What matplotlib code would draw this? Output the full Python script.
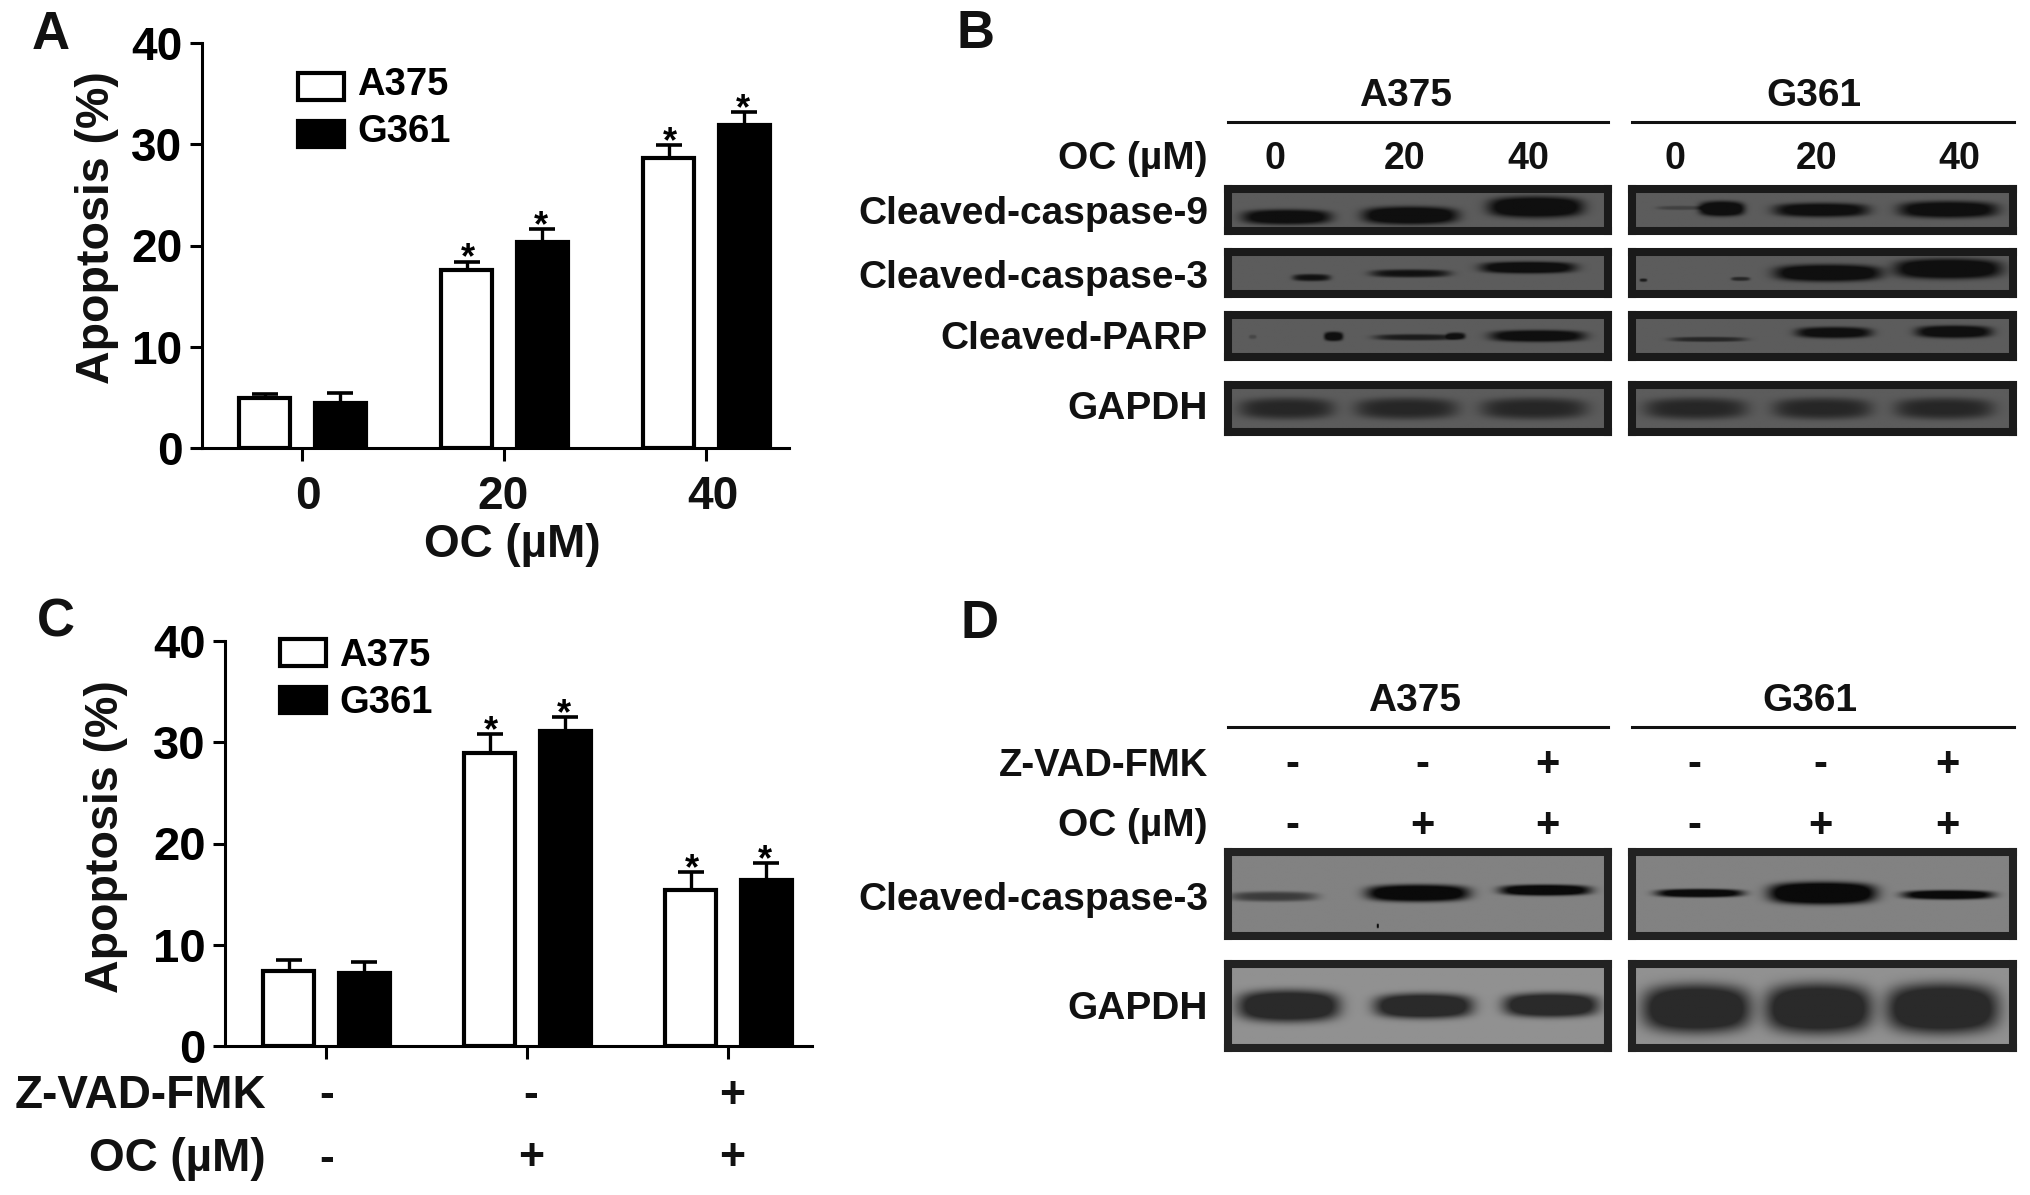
import matplotlib
matplotlib.use('Agg')
import matplotlib.pyplot as plt
import numpy as np
from matplotlib.patches import Patch

W, H = 2031, 1195
plt.rcParams['font.family'] = ['Liberation Sans', 'DejaVu Sans']
plt.rcParams['font.weight'] = 'bold'

series_names = ['A375', 'G361']
groups_a = ['0', '20', '40']
a375_a = [4.9, 17.6, 28.6]
a375_a_top = [5.3, 18.4, 29.9]
g361_a = [4.45, 20.3, 31.9]
g361_a_top = [5.4, 21.6, 33.2]
stars_a = [False, True, True]

a375_c = [7.45, 28.95, 15.45]
a375_c_top = [8.5, 30.8, 17.2]
g361_c = [7.25, 31.15, 16.35]
g361_c_top = [8.3, 32.5, 18.1]
stars_c = [False, True, True]
zvad_signs = ['-', '-', '+']
oc_signs = ['-', '+', '+']
y_ticks = [0, 10, 20, 30, 40]

# blot bands: x centre, y centre, width, height, strength (fractions of a panel)
b_casp9_a375 = [(.155, .667, .235, .36, .9), (.48, .63, .25, .42, 1), (.81, .43, .25, .5, 1)]
b_casp9_g361 = [(.236, .47, .12, .36, 1), (.13, .45, .13, .1, .25), (.497, .5, .25, .34, .85), (.83, .49, .26, .4, .9)]
b_casp3_a375 = [(.22, .61, .1, .17, .7), (.48, .51, .21, .19, .7), (.79, .37, .25, .28, .95)]
b_casp3_g361 = [(.03, .67, .02, .08, .6), (.285, .64, .05, .1, .5), (.515, .5, .28, .4, 1), (.83, .4, .28, .48, 1)]
b_parp_a375 = [(.065, .52, .02, .1, .2), (.278, .51, .05, .22, .9), (.495, .53, .22, .15, .6), (.6, .5, .05, .17, .7), (.815, .5, .25, .28, .9)]
b_parp_g361 = [(.2, .58, .2, .12, .5), (.53, .42, .2, .27, .85), (.845, .4, .2, .3, .9)]
b_gapdh_a375 = [(.155, .5, .25, .46, .5), (.47, .5, .27, .46, .5), (.806, .5, .28, .46, .5)]
b_gapdh_g361 = [(.168, .5, .27, .46, .5), (.5, .5, .26, .46, .5), (.82, .5, .26, .46, .5)]
d_casp3_a375 = [(.12, .53, .23, .12, .42), (.5, .49, .27, .2, 1), (.835, .455, .24, .13, .95), (.394, .88, .006, .05, 1)]
d_casp3_g361 = [(.178, .49, .23, .1, .9), (.5, .49, .28, .26, 1.1), (.83, .51, .24, .11, .9)]
d_gapdh_a375 = [(.16, .5, .27, .38, 1), (.515, .5, .26, .3, 1), (.85, .49, .25, .29, 1)]
d_gapdh_g361 = [(.17, .53, .285, .58, 1), (.49, .53, .28, .6, 1), (.815, .53, .295, .6, 1)]

fig = plt.figure(figsize=(W / 100, H / 100), dpi=100)


def px_axes(x0, y0, x1, y1):
    return fig.add_axes([x0 / W, 1 - y1 / H, (x1 - x0) / W, (y1 - y0) / H])


def px_text(x, y, s, size, ha='center', va='center', rotation=0):
    # text centre sits a little high with va='center', push horizontal text down
    dy = 0 if rotation else 3
    fig.text(x / W, 1 - (y + dy) / H, s, fontsize=size, ha=ha, va=va, fontweight='bold',
             color='#111111', rotation=rotation)


def bar_panel(rect, ticks_px, white, white_top, black, black_top, stars, legend_xy, label_up, tick_size):
    ax = px_axes(*rect)
    step = ticks_px[1] - ticks_px[0]
    ax.set_xlim((rect[0] - ticks_px[0]) / step, (rect[2] - ticks_px[0]) / step)
    ax.set_ylim(0, 40)
    x = np.arange(3)
    width = 0.255
    for offs, star_dx, vals, tops, face in ((-0.185, 1, white, white_top, 'white'),
                                            (0.19, -1, black, black_top, 'black')):
        ax.errorbar(x + offs, vals, yerr=[np.zeros(3), np.array(tops) - np.array(vals)], fmt='none',
                    ecolor='black', elinewidth=2.4, capsize=9.5, capthick=2.6, zorder=1)
        ax.bar(x + offs, vals, width, color=face, edgecolor='black', linewidth=3, zorder=2)
        for xi, top, st in zip(x, tops, stars):
            if st:
                ax.annotate('*', (xi + offs, top), xytext=(star_dx, -5), textcoords='offset points',
                            ha='center', va='baseline', fontsize=26, fontweight='bold')
    ax.spines['top'].set_visible(False)
    ax.spines['right'].set_visible(False)
    ax.spines['left'].set_linewidth(2.2)
    ax.spines['bottom'].set_linewidth(2.2)
    ax.set_yticks(y_ticks)
    ax.tick_params(axis='y', length=9, width=2.2, labelsize=tick_size, pad=5)
    ax.set_xticks(x)
    ax.set_xticklabels([])
    ax.tick_params(axis='x', length=9, width=2.2)
    ax.patch.set_alpha(0)
    handles = [Patch(facecolor='white', edgecolor='black', linewidth=3),
               Patch(facecolor='black', edgecolor='black', linewidth=3)]
    leg = fig.legend(handles, series_names, loc='upper left', frameon=False, fontsize=27.5,
                     bbox_to_anchor=(legend_xy[0] / W, 1 - legend_xy[1] / H), borderpad=0, borderaxespad=0,
                     handlelength=1.2, handleheight=0.68, handletextpad=0.35, labelspacing=0.3)
    for t in leg.get_texts():
        t.set_y(label_up)
    return ax


def blot(rect, bands, bg, dark, frame):
    pad = 4
    ax = px_axes(rect[0] + pad, rect[1] + pad, rect[2] - pad, rect[3] - pad)
    w = int(rect[2] - rect[0])
    h = int(rect[3] - rect[1])
    xx, yy = np.meshgrid((np.arange(w) + .5) / w, (np.arange(h) + .5) / h)
    amount = np.zeros_like(xx)
    for cx, cy, bw, bh, st in bands:
        dx = (xx - cx) / (bw / 2)
        dy = (yy - cy) / (bh / 2)
        amount += st * np.exp(-dx ** 6 - dy ** 4 - (dx * dy) ** 2)
    amount = np.clip(1.4 * amount, 0, 1)
    ax.imshow(bg + (dark - bg) * amount, cmap='gray', vmin=0, vmax=255, extent=(0, 1, 1, 0),
              aspect='auto', interpolation='bilinear')
    ax.set_xticks([])
    ax.set_yticks([])
    for s in ax.spines.values():
        s.set_linewidth(5.8)
        s.set_color(frame)


# panel A
ax_a = bar_panel((202, 43, 789, 448), [302, 504, 706], a375_a, a375_a_top, g361_a, g361_a_top,
                 stars_a, (298, 72), 5, 33)
for xp, s in zip([308, 503, 713], groups_a):
    px_text(xp, 494, s, 33)
px_text(97, 228, 'Apoptosis (%)', 33.5, rotation=90)
px_text(512, 542, 'OC (µM)', 33)
px_text(51, 32, 'A', 38)

# panel C
ax_c = bar_panel((225, 641, 812, 1046), [326, 527, 728], a375_c, a375_c_top, g361_c, g361_c_top,
                 stars_c, (280, 638), 0, 34)
px_text(106, 837, 'Apoptosis (%)', 33.5, rotation=90)
px_text(266, 1093, 'Z-VAD-FMK', 33, ha='right')
px_text(266, 1156, 'OC (µM)', 33, ha='right')
for xp, z, o in zip([327, 531, 732], zvad_signs, oc_signs):
    px_text(xp, 1093, z, 32)
    px_text(xp, 1156, o, 32)
px_text(56, 620, 'C', 38)

# panel B
A_X = (1224, 1612)
G_X = (1628, 2017)
fig.add_artist(plt.Line2D([1228 / W, 1608 / W], [1 - 122 / H] * 2, color='#111111', lw=2.2))
fig.add_artist(plt.Line2D([1632 / W, 2014 / W], [1 - 122 / H] * 2, color='#111111', lw=2.2))
px_text(1406, 93, 'A375', 28)
px_text(1814, 93, 'G361', 28)
px_text(1208, 156, 'OC (µM)', 28, ha='right')
for xp, s in zip([1275, 1405, 1528, 1675, 1817, 1959], groups_a * 2):
    px_text(xp, 156, s, 27)
rows_b = [(185, 235, 'Cleaved-caspase-9', b_casp9_a375, b_casp9_g361, 211),
          (248, 298, 'Cleaved-caspase-3', b_casp3_a375, b_casp3_g361, 275),
          (311, 361, 'Cleaved-PARP', b_parp_a375, b_parp_g361, 336),
          (381, 436, 'GAPDH', b_gapdh_a375, b_gapdh_g361, 406)]
for y0, y1, name, left, right, ty in rows_b:
    blot((A_X[0], y0, A_X[1], y1), left, 92, 15, '#1a1a1a')
    blot((G_X[0], y0, G_X[1], y1), right, 92, 15, '#1a1a1a')
    px_text(1208, ty, name, 28, ha='right')
px_text(976, 31, 'B', 38)

# panel D
fig.add_artist(plt.Line2D([1228 / W, 1608 / W], [1 - 727 / H] * 2, color='#111111', lw=2.2))
fig.add_artist(plt.Line2D([1632 / W, 2014 / W], [1 - 727 / H] * 2, color='#111111', lw=2.2))
px_text(1415, 698, 'A375', 28)
px_text(1810, 698, 'G361', 28)
px_text(1208, 763, 'Z-VAD-FMK', 27.5, ha='right')
px_text(1208, 823, 'OC (µM)', 28, ha='right')
for xp, z, o in zip([1292, 1422, 1547, 1694, 1820, 1947], zvad_signs * 2, oc_signs * 2):
    px_text(xp, 762, z, 30)
    px_text(xp, 823, o, 30)
rows_d = [(848, 940, 'Cleaved-caspase-3', d_casp3_a375, d_casp3_g361, 897, 130, 10),
          (960, 1052, 'GAPDH', d_gapdh_a375, d_gapdh_g361, 1006, 145, 42)]
for y0, y1, name, left, right, ty, bg, dark in rows_d:
    blot((A_X[0], y0, A_X[1], y1), left, bg, dark, '#222222')
    blot((G_X[0], y0, G_X[1], y1), right, bg, dark, '#222222')
    px_text(1208, ty, name, 28, ha='right')
px_text(980, 621, 'D', 38)

plt.savefig('out.png', dpi=100)
